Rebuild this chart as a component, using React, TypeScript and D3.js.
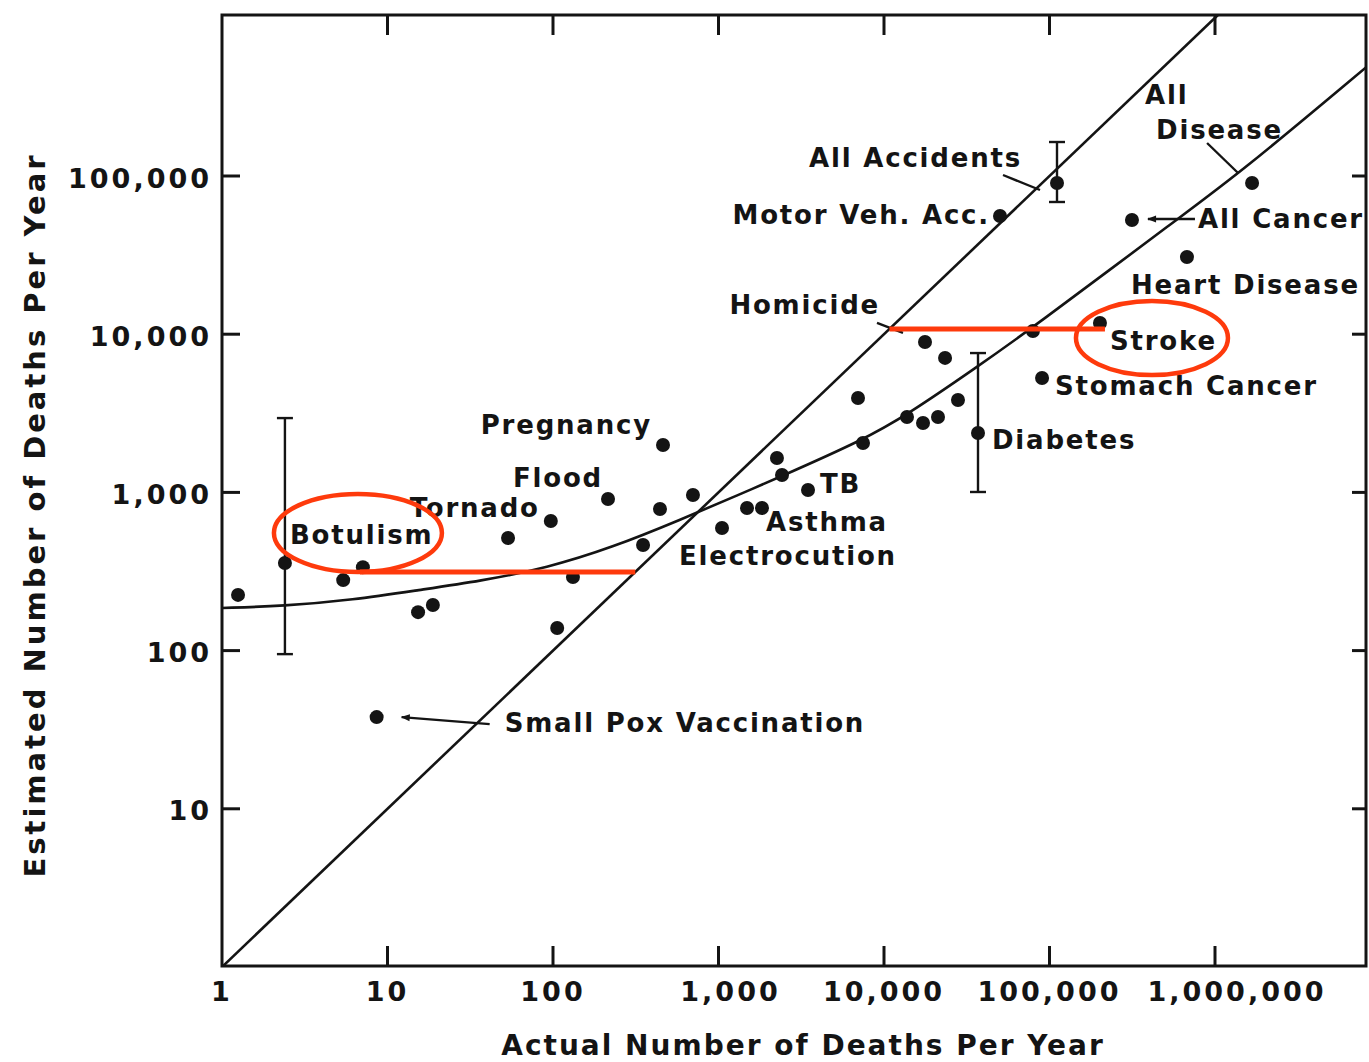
import React, { useRef, useEffect } from "react";
import * as d3 from "d3";

// plotted causes: label ("" where the figure leaves the point unlabelled), actual and estimated deaths per year
const causeLabels = [
  "", "Botulism", "", "", "", "", "Small Pox Vaccination", "", "Tornado", "", "",
  "Flood", "", "", "Pregnancy", "", "Electrocution", "", "Asthma", "", "", "TB",
  "", "", "", "", "", "", "Homicide", "", "Diabetes", "Motor Veh. Acc.", "All Accidents",
  "All Cancer", "Heart Disease", "All Disease", "Stroke", "Stomach Cancer", "",
];
const actualDeaths = [
  1.25, 2.4, 5.4, 7.1, 15.3, 18.8, 8.6, 53.5, 97, 132, 106,
  215, 350, 443, 462, 701, 1050, 1487, 1831, 2255, 2420, 3475,
  6966, 7465, 13770, 17210, 21200, 27990, 17690, 23380, 36980, 50230, 111000,
  315000, 677000, 1675000, 201800, 90150, 79400,
];
const estimatedDeaths = [
  225, 358, 279, 337, 175, 194, 38, 515, 659, 292, 139,
  908, 465, 785, 1995, 963, 596, 797, 797, 1649, 1288, 1036,
  3953, 2052, 2998, 2748, 2998, 3840, 8930, 7080, 2373, 55850, 90300,
  52700, 30760, 90300, 11770, 5290, 10480,
];

// error bars on three of the causes
const errorBarActual = [2.4, 36980, 111000];
const errorBarLow = [95, 1006, 68500];
const errorBarHigh = [2950, 7600, 164000];

// curve fitted through the estimates
const fitActual = [1, 2.34, 6.19, 15.7, 36.2, 92, 231, 585, 1349, 2344, 7460, 13770, 36500, 77300, 615000, 1416000, 8500000];
const fitEstimated = [186, 191, 209, 242, 275, 333, 451, 669, 975, 1250, 2143, 3085, 6205, 10790, 55050, 104500, 503000];

const xTickValues = [1, 10, 100, 1000, 10000, 100000, 1000000];
const xTickLabels = ["1", "10", "100", "1,000", "10,000", "100,000", "1,000,000"];
const yTickValues = [10, 100, 1000, 10000, 100000];
const yTickLabels = ["10", "100", "1,000", "10,000", "100,000"];

const highlightedCauses = ["Botulism", "Stroke"];

// label placement relative to each dot (pixels)
const labelLayout = {
  "Botulism": { dx: 5, dy: -28, anchor: "start" },
  "Small Pox Vaccination": { dx: 128, dy: 6, anchor: "start" },
  "Tornado": { dx: -11, dy: -13, anchor: "end" },
  "Flood": { dx: -5, dy: -21, anchor: "end" },
  "Pregnancy": { dx: -11, dy: -20, anchor: "end" },
  "Electrocution": { dx: -43, dy: 28, anchor: "start" },
  "Asthma": { dx: 4, dy: 14, anchor: "start" },
  "TB": { dx: 12, dy: -6, anchor: "start" },
  "Homicide": { dx: -45, dy: -37, anchor: "end" },
  "Diabetes": { dx: 14, dy: 7, anchor: "start" },
  "Motor Veh. Acc.": { dx: -10, dy: -1, anchor: "end" },
  "All Accidents": { dx: -35, dy: -25, anchor: "end" },
  "All Cancer": { dx: 66, dy: -1, anchor: "start" },
  "Heart Disease": { dx: -56, dy: 28, anchor: "start" },
  "Stroke": { dx: 10, dy: 18, anchor: "start" },
  "Stomach Cancer": { dx: 13, dy: 8, anchor: "start" },
};

// leader lines / arrows, relative to the dot
const leaderLayout = {
  "Small Pox Vaccination": { x1: 113, y1: 7, x2: 25, y2: 0, arrow: true },
  "All Cancer": { x1: 63, y1: -1, x2: 16, y2: -1, arrow: true },
  "Homicide": { x1: -48, y1: -19, x2: -22, y2: -9, arrow: false },
  "All Accidents": { x1: -54, y1: -8, x2: -17, y2: 7, arrow: false },
  "All Disease": { x1: -45, y1: -40, x2: -14, y2: -10, arrow: false },
};

const ink = "#141414";
const red = "#fe3a0c";
const font = "'DejaVu Sans', Verdana, sans-serif";

const App = () => {
  const svgRef = useRef(null);

  useEffect(() => {
    document.body.style.margin = "0";
    const width = 1369;
    const height = 1062;

    const x = d3.scaleLog().domain([1, 1e6]).range([222, 1215]);
    const y = d3.scaleLog().domain([1, 1e5]).range([967, 176]);

    const left = x(1);
    const right = 1366;
    const top = 15;
    const bottom = y(1) - 1;

    const svg = d3.select(svgRef.current)
      .attr("width", width)
      .attr("height", height);
    svg.selectAll("*").remove();

    const defs = svg.append("defs");
    defs.append("clipPath").attr("id", "plot-clip")
      .append("rect")
      .attr("x", left).attr("y", top)
      .attr("width", right - left).attr("height", bottom - top);
    defs.append("marker")
      .attr("id", "arrow")
      .attr("viewBox", "0 0 10 10")
      .attr("refX", 9).attr("refY", 5)
      .attr("markerWidth", 12).attr("markerHeight", 9)
      .attr("markerUnits", "userSpaceOnUse")
      .attr("orient", "auto")
      .append("path")
      .attr("d", "M0,1 L10,5 L0,9 Z")
      .attr("fill", ink);

    svg.append("rect")
      .attr("width", width).attr("height", height)
      .attr("fill", "#fff");

    // frame
    svg.append("rect")
      .attr("x", left).attr("y", top)
      .attr("width", right - left).attr("height", bottom - top)
      .attr("fill", "none")
      .attr("stroke", ink)
      .attr("stroke-width", 3);

    // ticks (drawn inward on all four sides)
    const g = svg.append("g").attr("stroke", ink).attr("stroke-width", 3);
    xTickValues.slice(1).forEach(v => {
      g.append("line").attr("x1", x(v)).attr("x2", x(v)).attr("y1", bottom).attr("y2", bottom - 20);
      g.append("line").attr("x1", x(v)).attr("x2", x(v)).attr("y1", top).attr("y2", top + 20);
    });
    yTickValues.forEach(v => {
      g.append("line").attr("x1", left).attr("x2", left + 18).attr("y1", y(v)).attr("y2", y(v));
      g.append("line").attr("x1", right).attr("x2", right - 14).attr("y1", y(v)).attr("y2", y(v));
    });

    const textStyle = sel => sel
      .attr("font-family", font)
      .attr("font-weight", "bold")
      .attr("fill", ink);

    // the hand-lettered "1," labels sit a little right of their tick
    const nudge = label => label.startsWith("1,") ? (label.length > 5 ? 22 : 12) : 0;

    svg.append("g").selectAll("text")
      .data(xTickValues)
      .enter()
      .append("text")
      .call(textStyle)
      .attr("x", (d, i) => x(d) + nudge(xTickLabels[i]))
      .attr("y", bottom + 25)
      .attr("text-anchor", "middle")
      .attr("dominant-baseline", "central")
      .attr("font-size", 27)
      .attr("letter-spacing", 3)
      .text((d, i) => xTickLabels[i]);

    svg.append("g").selectAll("text")
      .data(yTickValues)
      .enter()
      .append("text")
      .call(textStyle)
      .attr("x", left - 10)
      .attr("y", d => y(d) + 2)
      .attr("text-anchor", "end")
      .attr("dominant-baseline", "central")
      .attr("font-size", 27)
      .attr("letter-spacing", 3)
      .text((d, i) => yTickLabels[i]);

    svg.append("text")
      .call(textStyle)
      .attr("x", 803).attr("y", 1045)
      .attr("text-anchor", "middle")
      .attr("dominant-baseline", "central")
      .attr("font-size", 28)
      .attr("letter-spacing", 2)
      .text("Actual Number of Deaths Per Year");

    svg.append("text")
      .call(textStyle)
      .attr("transform", "translate(35,515) rotate(-90)")
      .attr("text-anchor", "middle")
      .attr("dominant-baseline", "central")
      .attr("font-size", 29)
      .attr("letter-spacing", 3)
      .text("Estimated Number of Deaths Per Year");

    // identity line and fitted curve
    const plot = svg.append("g").attr("clip-path", "url(#plot-clip)");
    const diagEnd = Math.min(x.invert(right), y.invert(top));
    const line = d3.line().x(d => x(d[0])).y(d => y(d[1]));
    plot.append("path")
      .attr("d", line([[1, 1], [diagEnd, diagEnd]]))
      .attr("fill", "none")
      .attr("stroke", ink)
      .attr("stroke-width", 2.6);

    const curveLine = d3.line()
      .x(d => x(d[0]))
      .y(d => y(d[1]))
      .curve(d3.curveBasis);
    plot.append("path")
      .attr("d", curveLine(fitActual.map((a, i) => [a, fitEstimated[i]])))
      .attr("fill", "none")
      .attr("stroke", ink)
      .attr("stroke-width", 2.6);

    // error bars
    errorBarActual.forEach((a, i) => {
      const cx = x(a);
      const eb = svg.append("g").attr("stroke", ink).attr("stroke-width", 2.4);
      eb.append("line").attr("x1", cx).attr("x2", cx).attr("y1", y(errorBarLow[i])).attr("y2", y(errorBarHigh[i]));
      [errorBarLow[i], errorBarHigh[i]].forEach(v => {
        eb.append("line").attr("x1", cx - 8).attr("x2", cx + 8).attr("y1", y(v)).attr("y2", y(v));
      });
    });

    // dots
    svg.append("g").selectAll("circle")
      .data(actualDeaths)
      .enter()
      .append("circle")
      .attr("cx", d => x(d))
      .attr("cy", (d, i) => y(estimatedDeaths[i]))
      .attr("r", 7)
      .attr("fill", ink);

    // leaders
    Object.entries(leaderLayout).forEach(([name, l]) => {
      const i = causeLabels.indexOf(name);
      const px = x(actualDeaths[i]);
      const py = y(estimatedDeaths[i]);
      svg.append("line")
        .attr("x1", px + l.x1).attr("y1", py + l.y1)
        .attr("x2", px + l.x2).attr("y2", py + l.y2)
        .attr("stroke", ink)
        .attr("stroke-width", 2.4)
        .attr("marker-end", l.arrow ? "url(#arrow)" : null);
    });

    // labels
    Object.entries(labelLayout).forEach(([name, l]) => {
      const i = causeLabels.indexOf(name);
      svg.append("text")
        .call(textStyle)
        .attr("x", x(actualDeaths[i]) + l.dx)
        .attr("y", y(estimatedDeaths[i]) + l.dy)
        .attr("text-anchor", l.anchor)
        .attr("dominant-baseline", "central")
        .attr("font-size", 26)
        .attr("letter-spacing", 1.8)
        .text(name);
    });
    // "All Disease" is lettered on two lines
    {
      const i = causeLabels.indexOf("All Disease");
      const px = x(actualDeaths[i]);
      const py = y(estimatedDeaths[i]);
      const t = svg.append("text")
        .call(textStyle)
        .attr("font-size", 26)
        .attr("letter-spacing", 1.8)
        .attr("dominant-baseline", "central");
      t.append("tspan").attr("x", px - 107).attr("y", py - 88).text("All");
      t.append("tspan").attr("x", px - 96).attr("y", py - 53).text("Disease");
    }

    // red highlights: ellipse round the label, line across to the diagonal
    const highlightLayout = {
      "Botulism": { ex: 73, ey: -30, rx: 84, ry: 39, lineDy: 9, lineStart: 75 },
      "Stroke": { ex: 52, ey: 15, rx: 76, ry: 37, lineDy: 6, lineStart: 5 },
    };
    highlightedCauses.forEach(name => {
      const h = highlightLayout[name];
      const i = causeLabels.indexOf(name);
      const px = x(actualDeaths[i]);
      const py = y(estimatedDeaths[i]);
      const ly = py + h.lineDy;
      const onDiagonal = x(y.invert(ly));
      svg.append("line")
        .attr("x1", px + h.lineStart).attr("x2", onDiagonal)
        .attr("y1", ly).attr("y2", ly)
        .attr("stroke", red)
        .attr("stroke-width", 5);
      svg.append("ellipse")
        .attr("cx", px + h.ex).attr("cy", py + h.ey)
        .attr("rx", h.rx).attr("ry", h.ry)
        .attr("fill", "none")
        .attr("stroke", red)
        .attr("stroke-width", 4.5);
    });
  }, []);

  return <svg ref={svgRef} style={{ display: "block" }}></svg>;
};

export default App;
